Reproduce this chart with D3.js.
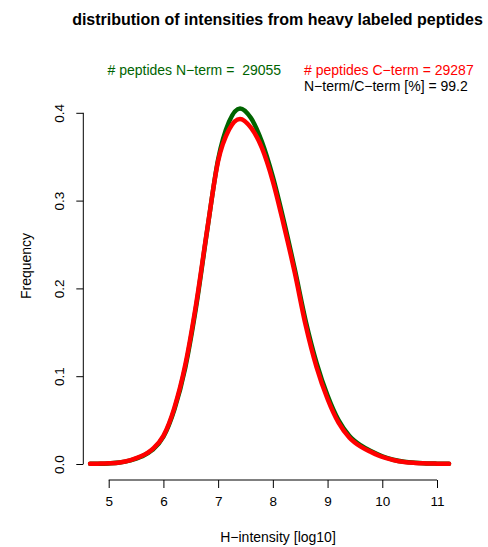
<!DOCTYPE html>
<html>
<head>
<meta charset="utf-8">
<script src="https://cdn.jsdelivr.net/npm/d3@7"></script>
<style>
  html, body { margin: 0; padding: 0; background: #fff; }
  svg { display: block; font-family: "Liberation Sans", Arial, Helvetica, sans-serif; }
</style>
</head>
<body>
<svg id="chart" width="488" height="547"></svg>
<script>
// log10 intensity grid at which the densities are evaluated
const intensity = [4.66, 4.8, 5.0, 5.2, 5.4, 5.6, 5.8, 6.0, 6.2, 6.4, 6.6, 6.8, 7.0, 7.2, 7.4,
  7.6, 7.8, 8.0, 8.2, 8.4, 8.6, 8.8, 9.0, 9.2, 9.4, 9.6, 9.8, 10.0, 10.2, 10.4, 10.6, 10.8, 11.0, 11.22];

// density of N-terminal heavy labeled peptides
const densityNterm = [0.0002, 0.0003, 0.0007, 0.0016, 0.0042, 0.0085, 0.016, 0.031, 0.062, 0.110,
  0.180, 0.266, 0.347, 0.390, 0.405, 0.394, 0.367, 0.327, 0.277, 0.222, 0.163, 0.115, 0.078,
  0.050, 0.032, 0.0215, 0.0145, 0.0088, 0.0049, 0.0025, 0.0013, 0.0007, 0.0004, 0.0002];

// density of C-terminal heavy labeled peptides
const densityCterm = [0.0002, 0.0004, 0.0008, 0.0018, 0.0045, 0.009, 0.017, 0.032, 0.064, 0.113,
  0.183, 0.267, 0.345, 0.381, 0.393, 0.383, 0.360, 0.322, 0.272, 0.218, 0.158, 0.110, 0.074,
  0.047, 0.030, 0.020, 0.0135, 0.008, 0.0045, 0.0022, 0.0012, 0.0007, 0.0004, 0.0002];

const xTicks = [5, 6, 7, 8, 9, 10, 11];
const yTicks = [0.0, 0.1, 0.2, 0.3, 0.4];

const countNterm = 29055;
const countCterm = 29287;

const svg = d3.select("#chart");

const x = d3.scaleLinear().domain([5, 11]).range([108.7, 437]);
const y = d3.scaleLinear().domain([0, 0.4]).range([464, 112.8]);

// title
svg.append("text")
  .attr("x", 277.5).attr("y", 25)
  .attr("text-anchor", "middle")
  .attr("font-weight", "bold")
  .attr("font-size", 16)
  .text("distribution of intensities from heavy labeled peptides");

// x axis (R style: line spans first to last tick, detached below the plot)
const xAxis = svg.append("g")
  .attr("transform", "translate(0,480)")
  .call(d3.axisBottom(x).tickValues(xTicks).tickSize(8).tickPadding(8).tickFormat(d3.format("d")));
xAxis.select(".domain").attr("d", `M${x(5)},0H${x(11)}`).attr("stroke", "#000");
xAxis.selectAll(".tick line").attr("stroke", "#000");
xAxis.selectAll(".tick text").attr("font-size", 13.5).attr("font-family", null).attr("fill", "#000");

// y axis with rotated tick labels
const yAxis = svg.append("g")
  .attr("transform", "translate(83.3,0)")
  .call(d3.axisLeft(y).tickValues(yTicks).tickSize(7).tickFormat(d3.format(".1f")));
yAxis.select(".domain").attr("d", `M0,${y(0)}V${y(0.4)}`).attr("stroke", "#000");
yAxis.selectAll(".tick line").attr("stroke", "#000");
yAxis.selectAll(".tick text")
  .attr("font-size", 13.5).attr("font-family", null).attr("fill", "#000")
  .attr("x", null).attr("dy", null)
  .attr("text-anchor", "middle")
  .attr("transform", "translate(-19.5,0) rotate(-90)");

// axis titles
svg.append("text")
  .attr("x", 278).attr("y", 542)
  .attr("text-anchor", "middle")
  .attr("font-size", 14)
  .text("H\u2212intensity [log10]");

svg.append("text")
  .attr("transform", "translate(31,266) rotate(-90)")
  .attr("text-anchor", "middle")
  .attr("font-size", 14)
  .text("Frequency");

// density curves
const line = d3.line()
  .x(d => x(d[0]))
  .y(d => y(d[1]))
  .curve(d3.curveMonotoneX);

const series = [
  { values: densityNterm, color: "#006400" },
  { values: densityCterm, color: "#ff0000" }
];

svg.append("g").selectAll("path")
  .data(series)
  .join("path")
  .attr("d", s => line(intensity.map((v, i) => [v, s.values[i]])))
  .attr("fill", "none")
  .attr("stroke", s => s.color)
  .attr("stroke-width", 4.5)
  .attr("stroke-linecap", "round")
  .attr("stroke-linejoin", "round");

// peptide counts
svg.append("text")
  .attr("x", 107.5).attr("y", 75)
  .attr("font-size", 14)
  .attr("fill", "#006400")
  .attr("xml:space", "preserve")
  .style("white-space", "pre")
  .text(`# peptides N\u2212term =  ${countNterm}`);

svg.append("text")
  .attr("x", 304).attr("y", 75)
  .attr("font-size", 14)
  .attr("fill", "#ff0000")
  .text(`# peptides C\u2212term = ${countCterm}`);

svg.append("text")
  .attr("x", 304).attr("y", 91)
  .attr("font-size", 14)
  .attr("fill", "#000")
  .text(`N\u2212term/C\u2212term [%] = ${(countNterm / countCterm * 100).toFixed(1)}`);
</script>
</body>
</html>
